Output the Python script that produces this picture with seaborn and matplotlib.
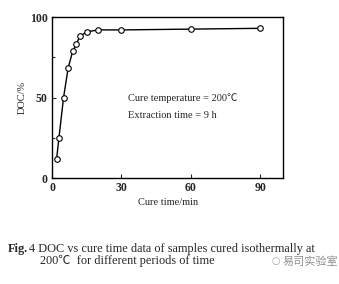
import matplotlib
matplotlib.use("Agg")
import matplotlib.pyplot as plt
import seaborn as sns
import pandas as pd

cure_time = [2, 3, 5, 7, 9, 10.5, 12, 15, 20, 30, 60, 90]
doc = [12, 25, 50, 68.5, 79, 83, 88, 90.8, 92, 92, 92.5, 93]
x_ticks = [0, 30, 60, 90]
y_ticks = [0, 50, 100]

sns.set_style("ticks")
plt.rcParams['font.family'] = ['Liberation Serif', 'Noto Sans CJK SC', 'DejaVu Sans']

df = pd.DataFrame({"t": cure_time, "doc": doc})

fig = plt.figure(figsize=(3.39, 2.84), dpi=100)
ax = fig.add_axes([0.1534, 0.373, 0.682, 0.567])
sns.lineplot(data=df, x="t", y="doc", ax=ax, color="black", linewidth=1.0,
             marker="o", markersize=4, markerfacecolor="white",
             markeredgecolor="black", markeredgewidth=0.8)
ax.set_xlim(0, 100)
ax.set_ylim(0, 100)
ax.set_xticks(x_ticks)
ax.set_yticks(y_ticks)
ax.set_yticks([25, 75], minor=True)
ax.tick_params(direction="in", length=3, width=0.8, labelsize=8.5, pad=3)
ax.tick_params(which="minor", direction="in", length=2, width=0.8)
for lab in ax.get_xticklabels() + ax.get_yticklabels():
    lab.set_fontweight("bold")
for s in ax.spines.values():
    s.set_visible(True)
    s.set_linewidth(1.0)
    s.set_color("black")
ax.set_xlabel("Cure time/min", fontsize=7.5, labelpad=3)
ax.set_ylabel("DOC/%", fontsize=7.5, labelpad=2)
ax.text(33, 48, "Cure temperature = 200\u2103", fontsize=7.5)
ax.text(33, 37, "Extraction time = 9 h", fontsize=7.5)

fig.text(0.024, 0.123, "Fig.", fontsize=8.8, fontweight="bold", va="center")
fig.text(0.087, 0.123, "4 DOC vs cure time data of samples cured isothermally at",
         fontsize=8.8, va="center")
fig.text(0.118, 0.08, "200\u2103  for different periods of time", fontsize=8.8, va="center")
fig.text(0.835, 0.08, "易司实验室", fontsize=8, color="#909090", va="center",
         family=["Noto Sans CJK SC", "DejaVu Sans"])
fig.text(0.80, 0.08, "\u25cb", fontsize=7, color="#a0a0a0", va="center",
         family=["DejaVu Sans"])
fig.savefig("out.png", dpi=100)
